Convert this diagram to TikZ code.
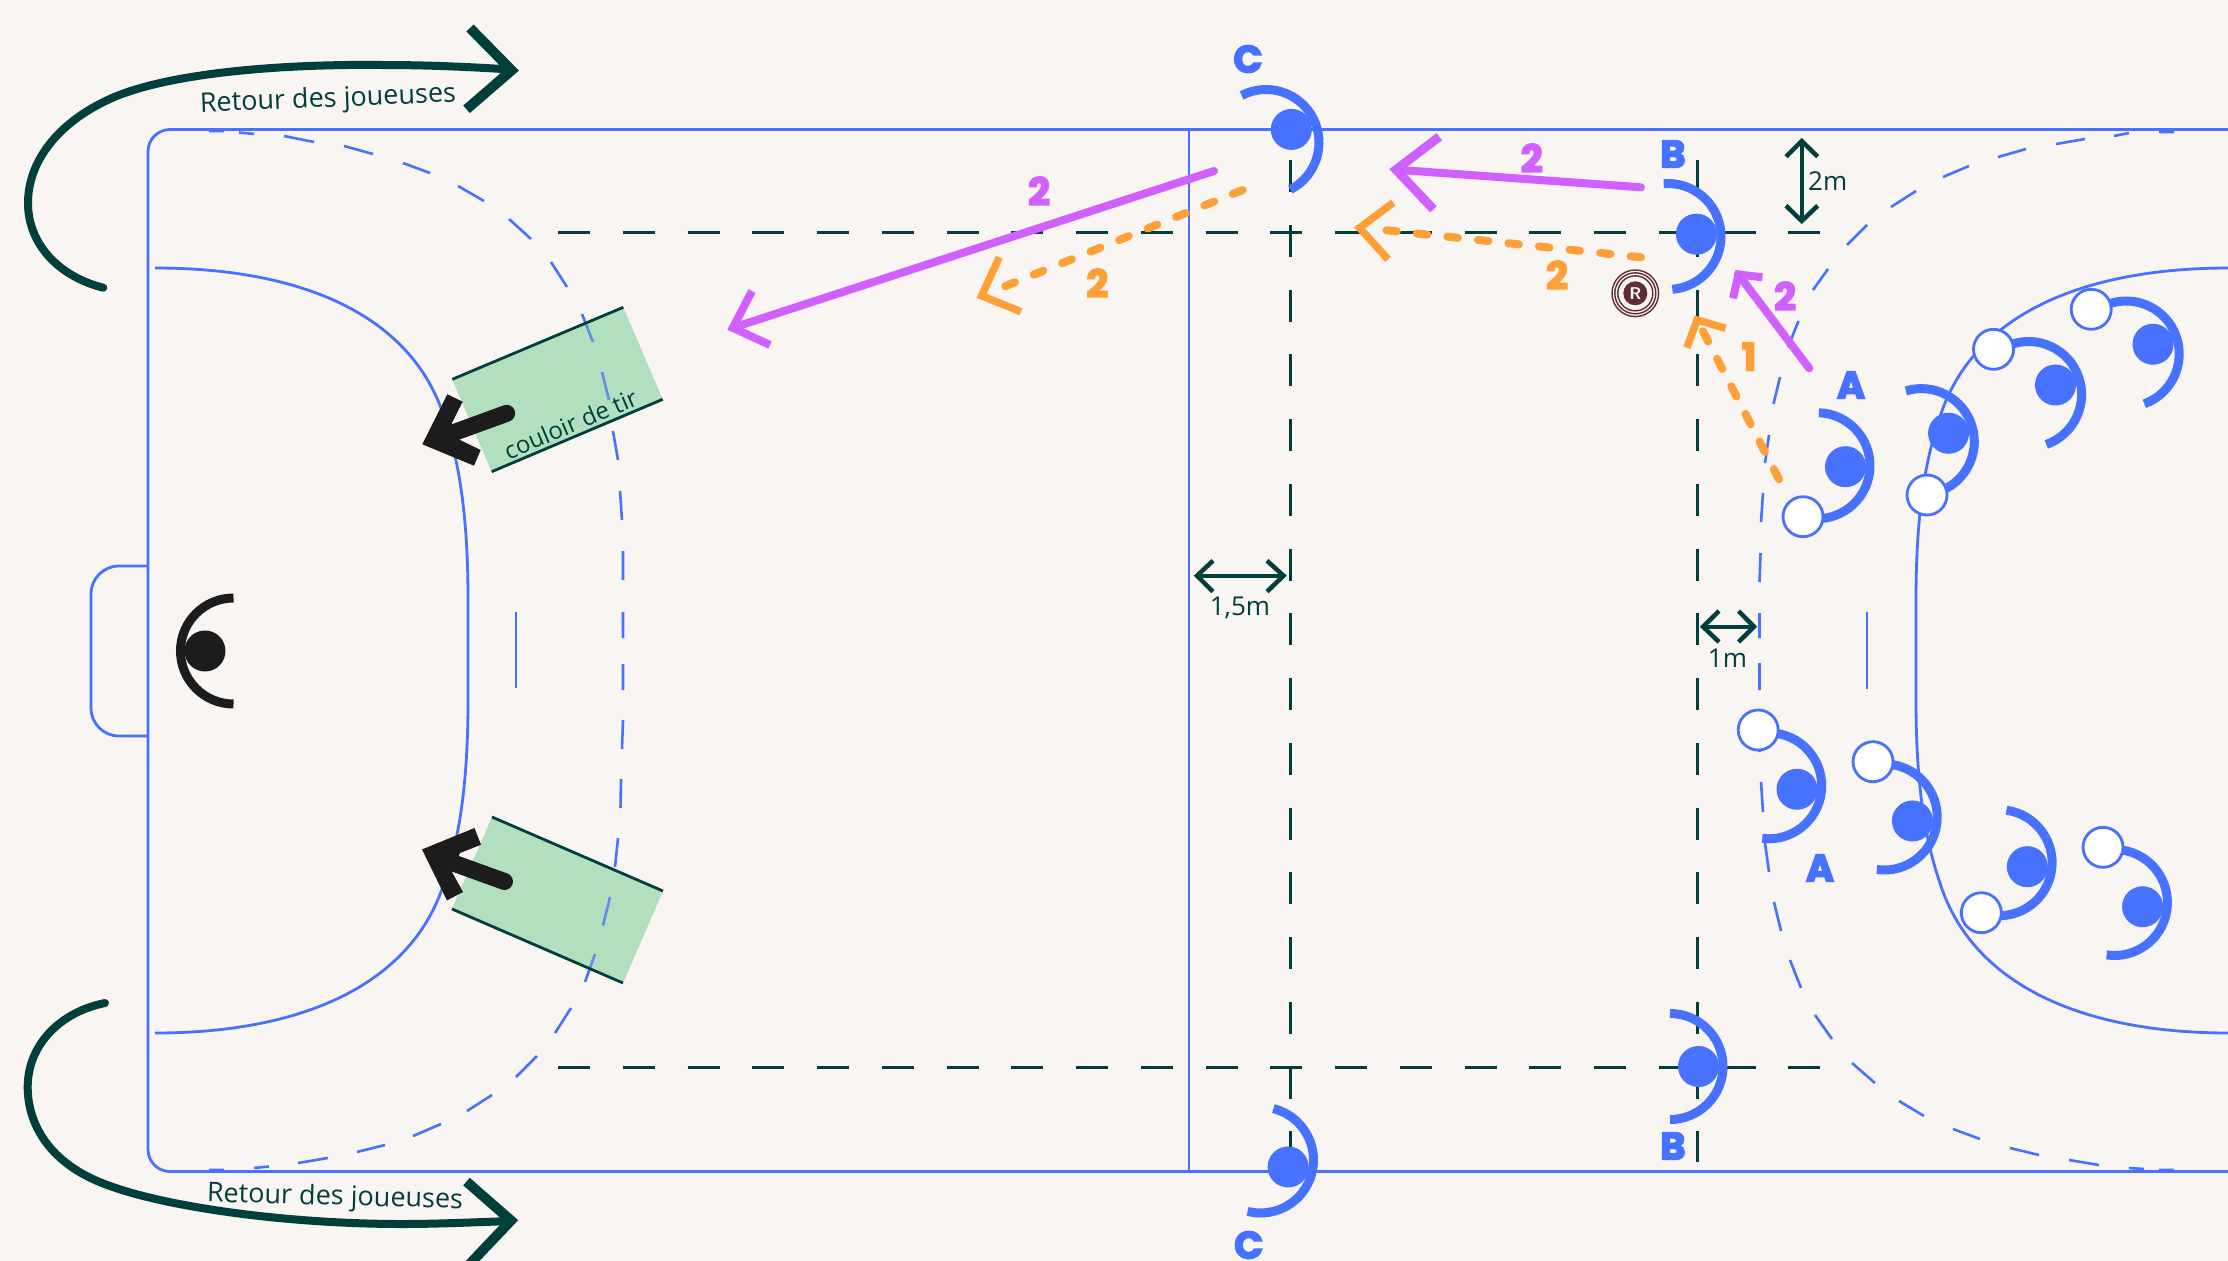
\documentclass[tikz,border=0pt]{standalone}
\usepackage{fontspec}
\setmainfont{Open Sans}
\newfontfamily\heavy[BoldFeatures={FakeBold=4.5}]{Poppins}
\definecolor{bgc}{HTML}{F9F5F2}
\definecolor{bluec}{HTML}{4772FF}
\definecolor{darkc}{HTML}{003F3C}
\definecolor{purplec}{HTML}{D060FF}
\definecolor{orangec}{HTML}{FF9F38}
\definecolor{greenc}{HTML}{B2DFBE}
\definecolor{blackc}{HTML}{1C1C1C}
\definecolor{brownc}{HTML}{5E2F30}
\tikzset{
  courtline/.style={draw=bluec,line width=2.8pt},
  ninem/.style={draw=bluec,line width=2.6pt},
  markdash/.style={draw=darkc,line width=3pt,dash pattern=on 32pt off 32.75pt},
  retour/.style={draw=darkc,line width=8pt,line cap=round},
  retourhead/.style={draw=darkc,line width=10pt,line join=miter,miter limit=10},
  dimarrow/.style={draw=darkc,line width=4pt,line join=miter,miter limit=10},
  lbl/.style={text=darkc,font=\fontsize{26}{30}\selectfont,inner sep=0pt},
  lblret/.style={text=darkc,font=\fontsize{27}{31}\selectfont,inner sep=0pt},
  pshaft/.style={draw=purplec,line width=8pt,line cap=round},
  phead/.style={draw=purplec,line width=8pt,line join=miter,miter limit=10},
  oshaft/.style={draw=orangec,line width=8pt,line cap=round,dash pattern=on 10.5pt off 20.2pt},
  ohead/.style={draw=orangec,line width=7.5pt,line join=miter,miter limit=10},
  letter/.style={text=bluec,font=\fontsize{38}{40}\bfseries\heavy,inner sep=0pt},
  nump/.style={text=purplec,font=\fontsize{38}{40}\bfseries\heavy,inner sep=0pt},
  numo/.style={text=orangec,font=\fontsize{38}{40}\bfseries\heavy,inner sep=0pt},
  blackarrow/.style={fill=blackc},
  blackshaft/.style={draw=blackc,line width=17pt,line cap=round},
}
\newcommand\blueplayer[3]{%
  \draw[bluec,line width=9pt] (#1,#2) ++(#3-90:53) arc[start angle=#3-90,end angle=#3+90,radius=53];
  \fill[bluec] (#1,#2) ++(#3:28.5) circle[radius=20.5];}
\newcommand\whiteball[2]{\draw[bluec,fill=white,line width=2.8pt] (#1,#2) circle[radius=20];}
\begin{document}
\begin{tikzpicture}[x=1pt,y=-1pt]
\path[use as bounding box,fill=bgc] (0,0) rectangle (2228,1261);
% green corridors
\fill[greenc] (452.3,379.3) -- (623.3,307.3) -- (662.7,399.3) -- (491.7,471.7) -- cycle;
\fill[greenc] (492,817) -- (663,891) -- (623,983) -- (452,909) -- cycle;
% court
\draw[courtline,rounded corners=22pt] (2236,129.5) -- (148,129.5) -- (148,1171.5) -- (2236,1171.5);
\draw[courtline] (1189,129.5) -- (1189,1171.5);
\draw[courtline,rounded corners=28pt] (148,566) -- (91,566) -- (91,736) -- (148,736);
% 6 m
\draw[courtline] (155,268) .. controls (310,268) and (415,320) .. (445,420) .. controls (462,470) and (468,530) .. (468,600) -- (468,700) .. controls (468,770) and (462,830) .. (445,880) .. controls (415,980) and (310,1033) .. (155,1033);
\draw[courtline] (2240,268) -- (2229,268) .. controls (2074,268) and (1969,320) .. (1939,420) .. controls (1922,470) and (1916,530) .. (1916,600) -- (1916,700) .. controls (1916,770) and (1922,830) .. (1939,880) .. controls (1969,980) and (2074,1033) .. (2229,1033) -- (2240,1033);
% 7 m
\draw[courtline] (516,612) -- (516,688);
\draw[courtline] (1867,612) -- (1867,689);
% 9 m, left
\draw[ninem] (209,131)--(224,131) (239,132.5)--(254,134) (284,136)--(314,142) (344,146)--(373,154) (403,163)--(430,173) (458,186)--(484,201) (509,219)--(531,239) (551,262)--(567,287) (582,314)--(593,342) (602,372)--(609,400) (613,431)--(618,460) (620,491)--(622,520) (623,551)--(623,580) (623,612)--(623,638) (623,664)--(623,690) (623,720)--(622,749) (621,779)--(620.5,808) (618,838)--(615,867) (610,897)--(603,925.5) (595,954)--(585,982) (571,1008)--(555,1033) (537,1056)--(516,1077) (492,1095)--(467,1111) (441,1124)--(413,1136) (385,1145)--(357,1152) (328,1158)--(298,1163) (269,1166.5)--(254,1168) (224,1170)--(209,1170);
% 9 m, right
\draw[ninem] (2174,132)--(2159,132) (2129,133)--(2114,136) (2085,139)--(2056,144) (2026,149)--(1998,157) (1969,166)--(1943,177) (1916,191)--(1891,207) (1867,225)--(1847,245) (1828,269)--(1813,290) (1798.5,321)--(1788,347) (1780,377)--(1773.5,404) (1769,435)--(1765,463) (1763,493)--(1761,522) (1760.5,553)--(1759.5,582) (1759.5,613)--(1759.5,638) (1759.5,663)--(1759.5,690) (1759.5,722)--(1759.5,752) (1761,782)--(1763,812) (1765,843)--(1769,872) (1774,902)--(1781,931) (1790,960)--(1801,988) (1815,1015)--(1832,1039) (1852,1063)--(1875,1083) (1899,1101)--(1924,1116) (1953,1129)--(1980,1139) (2010,1148)--(2039,1155) (2069,1160)--(2099,1165) (2129,1168)--(2144,1169) (2159,1170)--(2173.5,1170);
% corridor veil and edges
\fill[greenc,opacity=.25] (452.3,379.3) -- (623.3,307.3) -- (662.7,399.3) -- (491.7,471.7) -- cycle;
\fill[greenc,opacity=.25] (492,817) -- (663,891) -- (623,983) -- (452,909) -- cycle;
\draw[darkc,line width=2.8pt] (452.3,379.3) -- (623.3,307.3) (491.7,471.7) -- (662.7,399.3);
\draw[darkc,line width=2.8pt] (492,817) -- (663,891) (452,909) -- (623,983);
\node[lbl,rotate=23,font=\fontsize{24}{28}\selectfont] (couloir) at (570.5,424) {couloir de tir};
% marks
\draw[markdash] (558,232.7) -- (1822,232.7);
\draw[markdash] (558,1067.3) -- (1822,1067.3);
\draw[markdash] (1290,160) -- (1290,1162);
\draw[markdash] (1697.5,160) -- (1697.5,1162);
% black arrows
\draw[blackshaft] (506.7,413.3) -- (450,434);
\fill[blackarrow] (422.3,444.3) -- (447.3,394.3) -- (462.7,401.7) -- (451.7,423.3) -- (460,440) -- (480.7,450) -- (474,465.7) -- cycle;
\draw[blackshaft] (504.5,881.5) -- (445,860);
\fill[blackarrow] (422,849.4) -- (474.5,828) -- (481,844.7) -- (460,853) -- (452,872) -- (463,892) -- (447,900.4) -- cycle;
% goalkeeper
\draw[blackc,line width=9pt] (233.5,598) arc[start angle=-90,end angle=-270,radius=53];
\fill[blackc] (205,651) circle[radius=20.5];
% blue players
\blueplayer{1668}{236.5}{-4.7}
\blueplayer{1266}{142.5}{-27.3}
\blueplayer{1670}{1066.5}{0}
\blueplayer{1260.5}{1160}{14.1}
\blueplayer{1817}{465.7}{2}
\blueplayer{1921.3}{441.6}{-17}
\blueplayer{2028.6}{394.5}{-19.5}
\blueplayer{2126.2}{354}{-20}
\blueplayer{1768.7}{785.8}{7}
\blueplayer{1884.2}{817}{8}
\blueplayer{1999.1}{862.7}{8}
\blueplayer{2114.4}{902.5}{8.5}
\whiteball{1803}{516.7}
\whiteball{1927}{495}
\whiteball{1993.5}{349.3}
\whiteball{2091.2}{309.3}
\whiteball{1758.2}{730}
\whiteball{1873}{761.7}
\whiteball{1981.3}{912.7}
\whiteball{2103}{847.3}
% letters
\node[letter] (c1) at (1248,59) {C};
\node[letter] (b1) at (1673,154) {B};
\node[letter] (a1) at (1851,385) {A};
\node[letter] (a2) at (1820,868) {A};
\node[letter] (b2) at (1673,1146) {B};
\node[letter] (c2) at (1248.7,1245) {C};
% purple arrows
\draw[pshaft] (1214,171) -- (732.8,327.8);
\draw[phead] (752,291) -- (732.8,327.8) -- (770,345);
\draw[pshaft] (1641,187.3) -- (1396,169.7);
\draw[phead,line width=9pt] (1439.3,136.7) -- (1396,169.7) -- (1433.5,209.3);
\draw[pshaft] (1809.2,368.3) -- (1738,274);
\draw[phead] (1733,298.3) -- (1738.5,274.5) -- (1762.4,277.3);
% orange arrows
\draw[oshaft] (1242.6,190) -- (997.6,289.3);
\draw[ohead] (999.3,257.3) -- (981.6,295.8) -- (1021,311.7);
\draw[oshaft] (1641,257.3) -- (1377.7,229.3);
\draw[ohead] (1393.3,202.7) -- (1359.5,227.8) -- (1388,259.3);
\draw[oshaft,dash pattern=on 11.5pt off 19.5pt] (1779,479.3) -- (1702.3,330);
\draw[ohead] (1686.9,347.7) -- (1697,320) -- (1725.6,328.3);
% numbers
\node[nump] (n1) at (1531.7,158) {2};
\node[numo] (n2) at (1557,275) {2};
\node[nump] (n3) at (1785,296) {2};
\node[numo] (n4) at (1749,356.7) {1};
\node[nump] (n5) at (1039,191) {2};
\node[numo] (n6) at (1097.4,283) {2};
% referee ball
\fill[brownc] (1635.3,293.3) circle[radius=12];
\draw[brownc,line width=1.4pt] (1635.3,293.3) circle[radius=17.5] circle[radius=20.5] circle[radius=23.3];
\node[text=white,font=\fontsize{17}{18}\bfseries\sffamily,inner sep=0pt] (refr) at (1635.3,293.3) {R};
% return arrows
\draw[retour] (103.3,287.7) .. controls (60,277) and (28,245) .. (28,203) .. controls (28,160) and (60,120) .. (115,96.7) .. controls (180,70) and (300,64) .. (382,65) .. controls (430,65) and (470,67) .. (511,69.5);
\draw[retourhead] (470,28) -- (511.6,70.3) -- (466.5,109.3);
\node[lblret,rotate=2.3] (ret1) at (328,100) {Retour des joueuses};
\draw[retour] (105,1003) .. controls (60,1012) and (27.7,1045) .. (27.7,1087) .. controls (27.7,1125) and (50,1160) .. (95,1180) .. controls (150,1205) and (280,1224) .. (402,1224) .. controls (440,1224) and (480,1222) .. (511,1221);
\draw[retourhead] (466.5,1181.6) -- (511,1220.5) -- (468.75,1265);
\node[lblret,rotate=-1.5] (ret2) at (335,1198) {Retour des joueuses};
% dimensions
\draw[dimarrow] (1801.7,141) -- (1801.7,221);
\draw[dimarrow,line width=4.5pt] (1786,156.7) -- (1801.7,141) -- (1817.7,156.7);
\draw[dimarrow,line width=4.5pt] (1786,205.7) -- (1801.7,221) -- (1817.7,205.7);
\node[lbl] (twom) at (1827.7,180.7) {2m};
\draw[dimarrow] (1197,575.7) -- (1283.5,575.7);
\draw[dimarrow,line width=4.5pt] (1213,560.7) -- (1197,575.7) -- (1213,591.7);
\draw[dimarrow,line width=4.5pt] (1267,560.7) -- (1283.5,575.7) -- (1267,591.7);
\node[lbl] (onefive) at (1240,607.5) {1,5m};
\draw[dimarrow] (1703,626.7) -- (1754,626.7);
\draw[dimarrow,line width=4.5pt] (1719,611) -- (1703,626.7) -- (1719,642);
\draw[dimarrow,line width=4.5pt] (1738.5,611) -- (1754,626.7) -- (1738.5,642);
\node[lbl] (onem) at (1727.4,658) {1m};
\end{tikzpicture}
\end{document}
